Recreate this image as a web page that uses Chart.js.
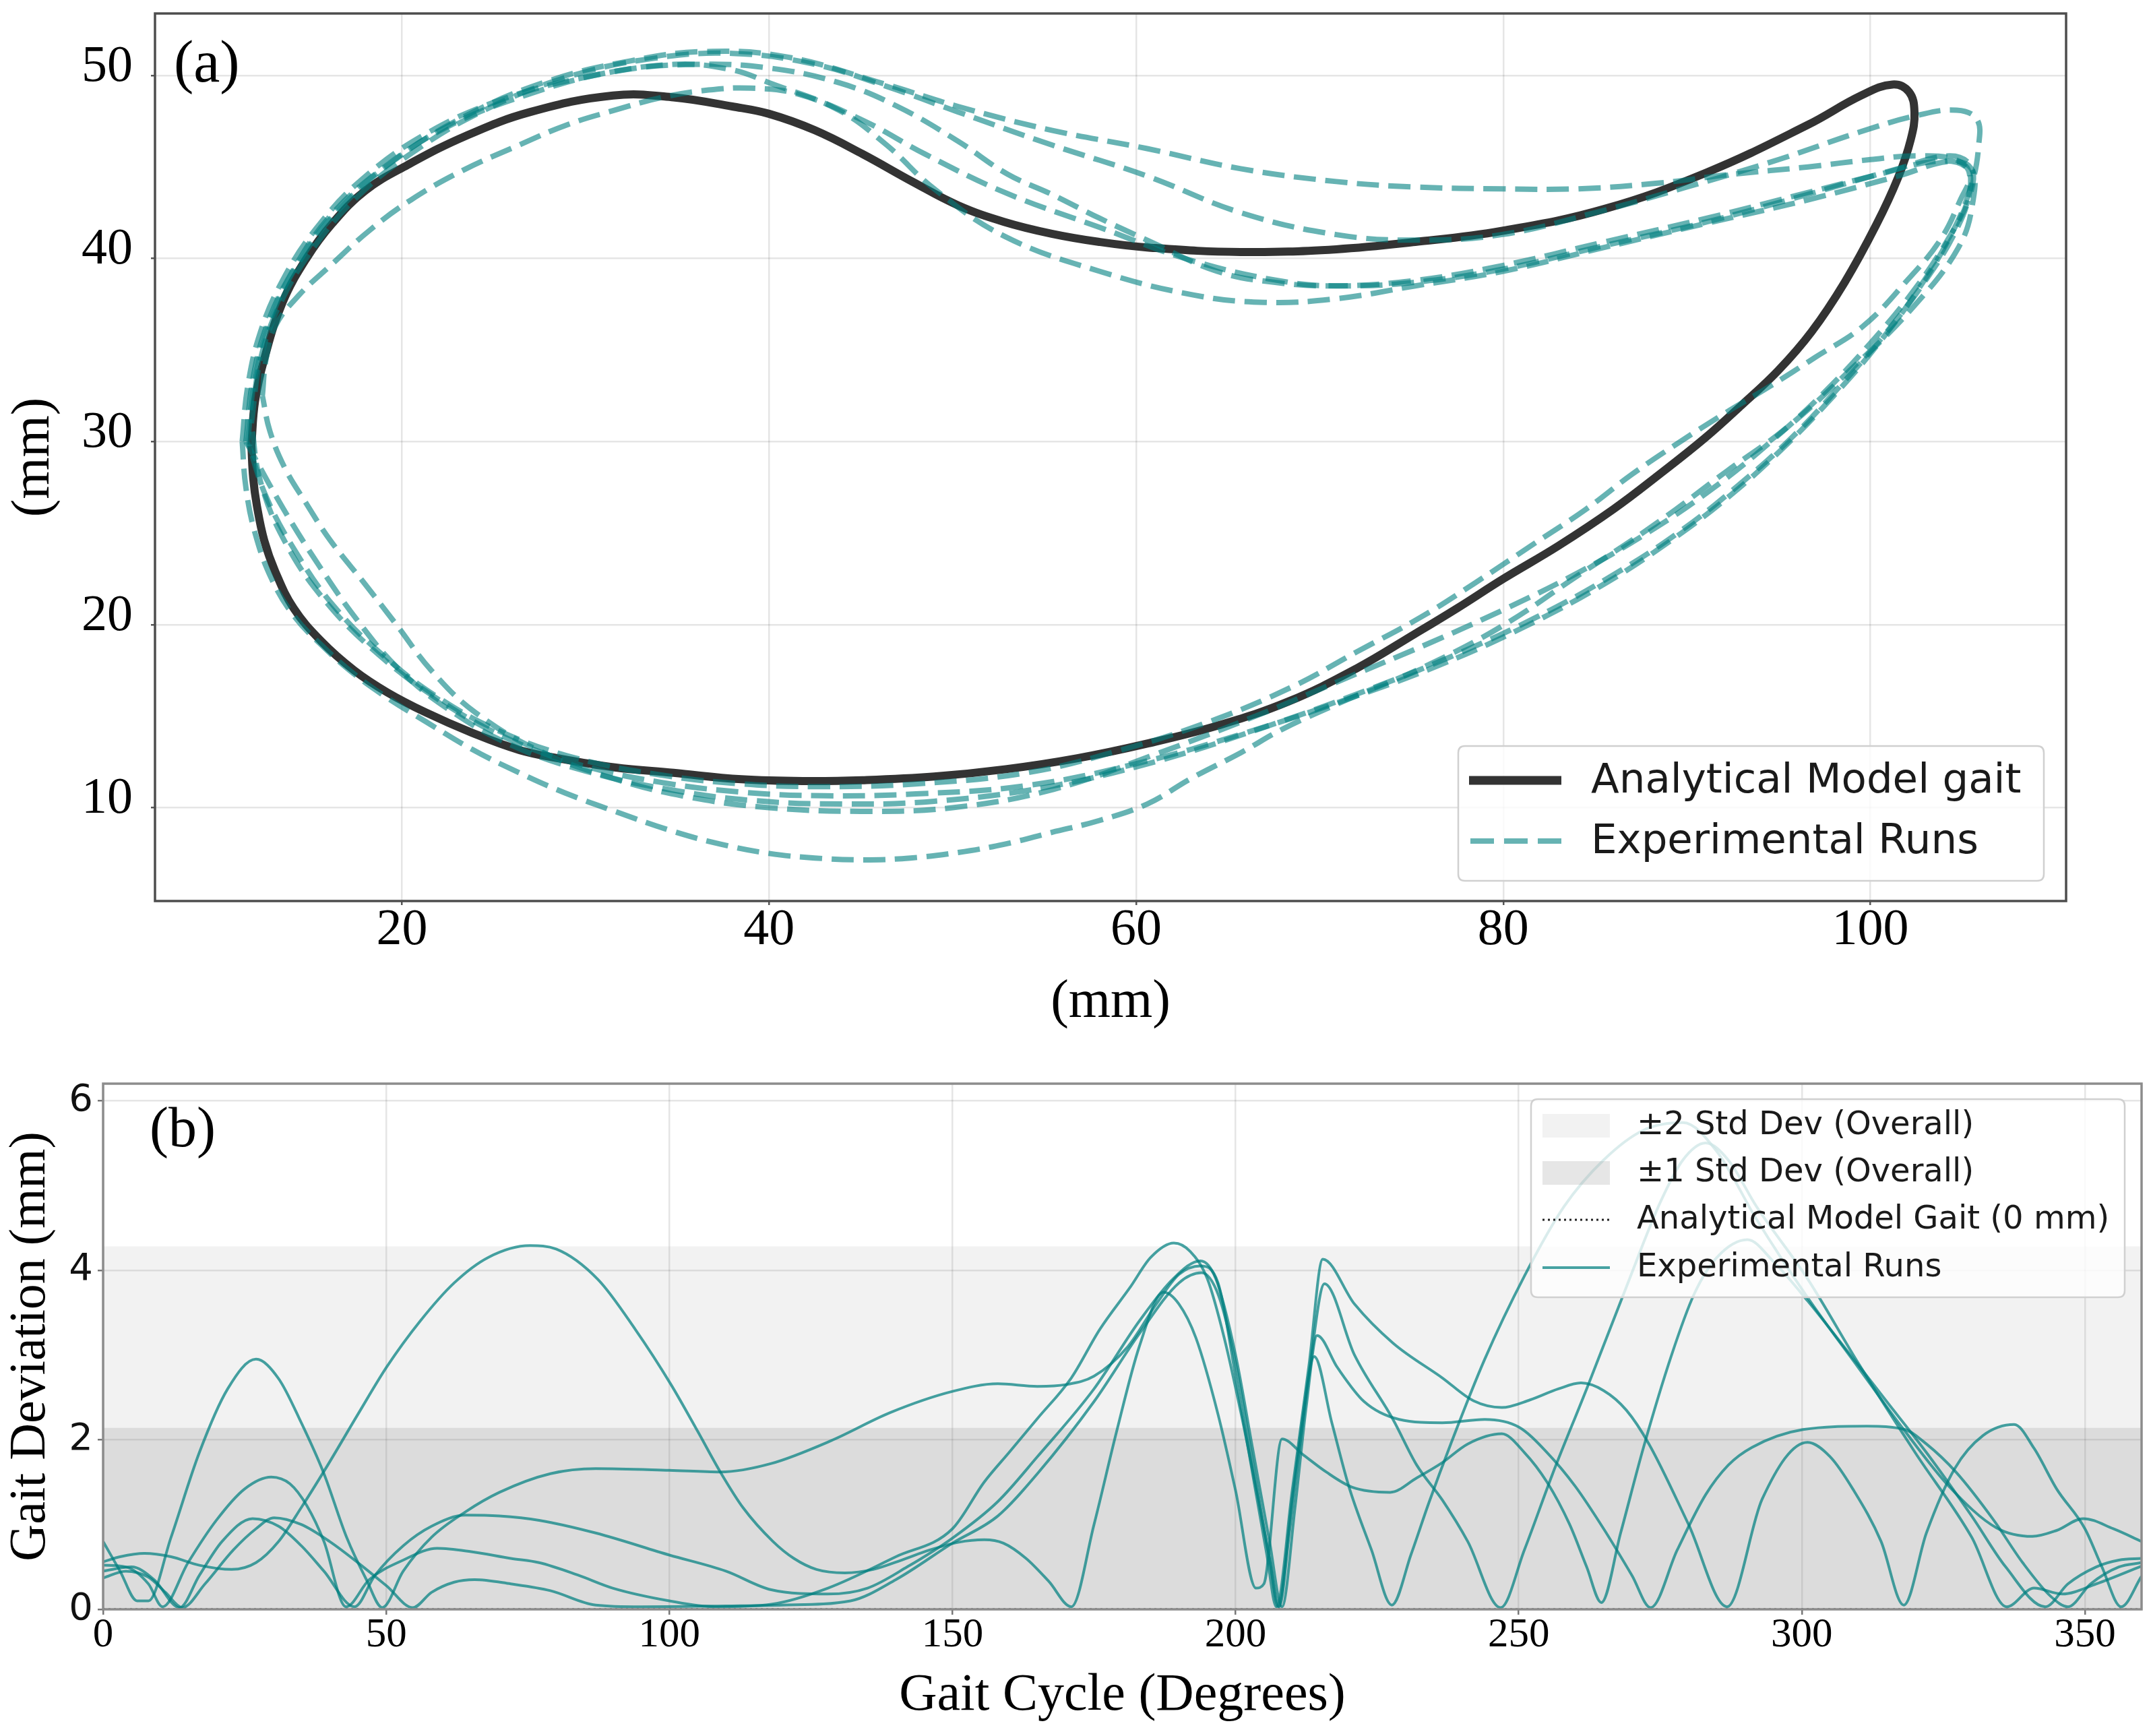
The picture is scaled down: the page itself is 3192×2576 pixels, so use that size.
<!DOCTYPE html>
<html><head><meta charset="utf-8">
<script src="https://cdn.jsdelivr.net/npm/chart.js@4.4.1/dist/chart.umd.min.js"></script>
<style>
html,body{margin:0;padding:0;background:#fff;}
#wrap{position:relative;width:3192px;height:2576px;background:#fff;}
canvas{position:absolute;left:0;}
#c1{top:0;} #c2{top:1560px;}
</style></head><body>
<div id="wrap"><canvas id="c1" width="3192" height="1560"></canvas><canvas id="c2" width="3192" height="1016"></canvas></div>
<script>
// ---------- Panel (a): foot trajectory (mm) ----------
const topXTicks = [20, 40, 60, 80, 100];
const topYTicks = [10, 20, 30, 40, 50];
const modelGait = [[11.8,29.8],[12.0,32.2],[12.5,34.5],[13.5,37.6],[14.8,40.0],[16.2,41.9],[18.0,43.7],[20.3,45.1],[23.5,46.7],[27.0,48.0],[31.5,48.9],[34.8,48.8],[38.0,48.3],[40.0,47.9],[42.5,47.0],[45.1,45.7],[47.8,44.2],[50.3,42.9],[52.8,42.0],[55.4,41.35],[58.0,40.9],[60.6,40.6],[65.7,40.35],[70.9,40.5],[75.2,40.9],[79.9,41.5],[85.5,42.7],[91.1,44.7],[96.6,47.3],[99.5,48.9],[101.2,49.5],[102.1,49.1],[102.4,48.0],[102.2,46.5],[101.5,44.4],[100.3,41.8],[98.6,38.7],[96.8,36.0],[95.0,33.9],[93.0,32.0],[91.0,30.2],[88.5,28.2],[86.0,26.3],[83.0,24.3],[80.0,22.5],[77.5,20.9],[75.2,19.5],[72.0,17.6],[68.3,15.8],[64.5,14.5],[60.6,13.5],[56.8,12.7],[52.9,12.1],[49.0,11.7],[45.1,11.5],[42.0,11.45],[38.5,11.55],[34.8,11.9],[31.6,12.2],[28.5,12.7],[26.4,13.15],[23.8,14.1],[21.3,15.2],[19.2,16.3],[17.4,17.5],[15.6,19.1],[14.1,20.9],[13.1,22.9],[12.5,24.6],[12.1,26.5],[11.9,28.0],[11.8,29.8]];
const run1Path = [[11.6,30],[12.0,33.5],[12.9,36.8],[14.4,39.8],[16.5,42.6],[19.5,45.3],[23.5,47.8],[28,49.7],[32.5,50.8],[36.5,51.3],[41,51.0],[46.4,49.5],[50.3,48.3],[55.4,47.0],[60.6,46.0],[65.7,44.9],[70.9,44.2],[75.2,43.9],[80,43.8],[84,43.8],[88.3,44.1],[92.5,44.6],[96.6,45.0],[100,45.4],[102.5,45.6],[104.6,45.4],[105.4,44.6],[104.9,43.2],[103.8,41.0],[102.0,38.8],[99.6,36.3],[97.0,34.6],[94.5,33.0],[92.0,31.5],[89.5,29.9],[87.0,28.2],[84.5,26.3],[81.5,24.3],[78.5,22.3],[75.5,20.4],[72,18.5],[68.5,16.6],[64,14.7],[59,13.1],[54,11.9],[48,11.3],[43,11.15],[38.5,11.3],[34,11.8],[29.5,12.7],[25.5,14.1],[22,16.0],[19,18.3],[16.3,21],[14.2,24],[12.6,27],[11.6,30]];
const run2Path = [[11.8,31],[12.3,34.5],[13.4,37.6],[15.2,40.6],[17.6,43.4],[20.6,45.8],[24.5,48.1],[29,49.9],[33.5,50.9],[38,51.2],[42.5,50.6],[46.4,49.4],[50.3,48.0],[55.4,46.2],[60.6,44.5],[65.7,42.5],[70.9,41.3],[75.2,41.0],[79.9,41.3],[85,42.5],[90,43.9],[95,45.4],[99.4,46.9],[102.5,47.8],[104.7,48.1],[105.8,47.6],[105.9,46.2],[105.5,44.0],[104.4,41.3],[102.6,38.3],[100.4,35.3],[98,32.5],[95.3,29.7],[92.3,27],[89,24.5],[85.3,22.1],[81.2,19.9],[76.8,17.9],[72,16.1],[66,14.1],[60,12.4],[54,11.2],[48,10.75],[43,10.65],[38.5,10.85],[34,11.4],[29.5,12.4],[25.5,13.9],[22,15.9],[18.8,18.3],[15.9,21.2],[13.7,24.4],[12.3,27.8],[11.8,31]];
const run3Path = [[11.5,30],[11.9,33.5],[12.7,36.5],[14.1,39.4],[16,42.2],[18.8,44.8],[22.5,47.2],[27,49.0],[31.5,50.2],[36,50.6],[40,50.4],[43.8,49.6],[47,48.3],[50.3,46.4],[53,44.6],[55.4,43.5],[58,42.2],[60.6,41.0],[64.4,39.3],[67.5,38.7],[70.9,38.5],[75.2,38.8],[79.9,39.6],[85.5,40.9],[91.1,42.2],[96.6,43.6],[100.5,44.6],[103.5,45.3],[105.2,45.0],[105.4,43.6],[104.6,41.4],[103,38.8],[100.9,36],[98.5,33.2],[95.8,30.3],[92.8,27.6],[89.5,25],[85.8,22.6],[81.8,20.4],[77.5,18.4],[72.8,16.5],[67,14.4],[61,12.5],[55,11.1],[49,10.35],[44,10.2],[39,10.4],[34.5,11.0],[30,12.0],[26,13.4],[22.5,15.4],[19.8,17.6],[17.6,20.2],[15.5,23.2],[13.5,26.4],[11.5,30]];
const run4Path = [[11.3,30],[11.6,33],[12.3,36],[13.5,38.8],[15.3,41.6],[17.8,44.3],[21.3,46.8],[25.5,48.7],[30,49.9],[34.8,50.6],[38,50.3],[40,49.6],[43.8,48.1],[46.4,46.2],[49,43.8],[52.85,41.2],[58,39.3],[63.15,38.0],[67,37.6],[70.9,37.8],[75.2,38.5],[80,39.3],[85.5,40.6],[91,41.9],[96.6,43.2],[101.5,44.5],[104.3,45.3],[105.5,44.9],[105.6,43.2],[104.8,40.6],[102.2,37.2],[99,34],[95.5,30.8],[92.2,28.4],[88.3,25.5],[84.1,22.7],[79.9,19.9],[75.7,17.7],[71.5,15.9],[68,14.3],[65.7,13.0],[63,11.6],[60.6,10.2],[58,9.3],[55.4,8.65],[52.8,8.0],[50.3,7.55],[47.7,7.25],[45.1,7.15],[42.5,7.25],[40,7.5],[37.4,8.0],[34.8,8.7],[31.6,9.8],[28.9,10.8],[26.4,11.9],[23.8,13.2],[21.3,14.7],[19.2,16.0],[17.4,17.3],[15.6,18.9],[14.1,20.5],[12.9,22.5],[12.0,25],[11.5,27.5],[11.3,30]];
const run5Path = [[12.4,32.5],[12.6,34.5],[13.1,36.3],[14.4,38.0],[16.1,39.6],[18.2,41.5],[20.5,43.2],[23.3,44.8],[26.4,46.2],[29,47.3],[31.6,48.1],[34.2,48.8],[36.7,49.2],[39,49.3],[41.5,49.0],[45,47.6],[48.5,45.7],[52.85,43.6],[58,41.7],[63.15,39.85],[68.3,38.7],[71.5,38.5],[75.2,38.7],[79.9,39.4],[85.5,40.7],[91.1,42.0],[96.6,43.5],[101.5,44.9],[104.3,45.6],[105.5,45.0],[105.4,43.4],[104.2,41.0],[102.4,38.3],[100.2,35.6],[97.6,32.8],[94.7,30.1],[91.5,27.5],[88,25.1],[84.2,22.9],[80.2,20.9],[76,19.0],[71.5,17.1],[66.5,15.0],[61,12.9],[55.5,11.0],[50,10.0],[45,9.8],[40,10.0],[35.5,10.6],[31.5,11.6],[27.5,13.1],[24,15.2],[21.6,17.5],[19.7,20],[18.0,22.2],[16.1,24.6],[14.8,26.6],[13.6,28.6],[12.8,30.6],[12.4,32.5]];

// ---------- Panel (b): gait deviation (mm) vs gait cycle (deg) ----------
const cycleTicks = [0, 50, 100, 150, 200, 250, 300, 350];
const deviationTicks = [0, 2, 4, 6];
const std1 = 2.14;
const std2 = 4.28;
const run1Dev = [[0,0.80],[3,0.45],[6,0.10],[8,0.10],[12,0.85],[17,1.85],[22,2.6],[27,2.95],[31,2.72],[35,2.2],[39,1.6],[43,0.85],[46.5,0.35],[49.3,0.02],[53,0.45],[58,0.85],[64,1.15],[70,1.38],[79,1.6],[87,1.66],[100,1.64],[109,1.62],[118,1.72],[128.6,1.99],[139,2.32],[150,2.57],[158,2.66],[165,2.63],[170,2.65],[175,2.75],[181,3.1],[186,3.6],[190,3.95],[193.8,4.05],[196.9,3.85],[200,2.75],[203,1.6],[205.5,0.65],[207.2,0.03],[210,1.4],[213,2.9],[215.4,4.13],[221,3.6],[227.8,3.14],[236.5,2.73],[242,2.46],[247,2.38],[252,2.47],[257,2.6],[261,2.67],[265,2.58],[269,2.35],[273,1.95],[280,1.0],[286.8,0.03],[293,1.3],[301,1.97],[305,1.8],[309,1.42],[314,0.8],[318,0.05],[322,0.9],[327,1.66],[332,2.05],[337.5,2.18],[341,1.9],[345,1.42],[350,0.95],[353,0.5],[356.4,0.03],[360,0.39]];
const run2Dev = [[0,0.56],[3,0.62],[7.3,0.66],[12,0.62],[17,0.52],[22.7,0.47],[27,0.55],[31,0.8],[35,1.2],[39.3,1.66],[45,2.3],[50.1,2.86],[56,3.4],[62,3.85],[68,4.15],[75.4,4.29],[80,4.25],[87.4,3.89],[94,3.3],[100.3,2.65],[105,2.1],[109,1.62],[113,1.2],[118.3,0.8],[122,0.6],[126,0.47],[131,0.43],[136,0.47],[141,0.58],[146,0.7],[151,0.79],[155.6,0.82],[159,0.78],[163,0.6],[167,0.33],[171,0.03],[175,1.0],[179,2.1],[183,3.1],[187.3,3.74],[190,3.6],[193,3.2],[196.9,2.3],[200,1.4],[203.6,0.25],[205,0.3],[208.2,2.01],[212,1.82],[216,1.62],[220.6,1.44],[227.3,1.38],[232,1.55],[236.5,1.73],[241,1.95],[247,2.07],[251,1.85],[255,1.5],[259,1.0],[262,0.5],[264.6,0.08],[268,0.9],[272,1.9],[277,3.0],[281,3.72],[285,4.15],[290.4,4.36],[295,4.1],[301,3.64],[308,3.05],[315,2.45],[322,1.85],[330,1.1],[336,0.5],[343,0.03],[347,0.3],[352,0.5],[356,0.58],[360,0.6]];
const run3Dev = [[0,0.52],[4,0.5],[8,0.3],[10.5,0.03],[15,0.55],[20,1.05],[25,1.42],[29.7,1.56],[33,1.48],[36,1.22],[39,0.8],[42.9,0.03],[47,0.35],[53,0.58],[59,0.72],[65,0.68],[72,0.6],[77,0.55],[84,0.4],[90,0.25],[100,0.1],[108,0.03],[118,0.06],[128,0.25],[140,0.62],[150,0.95],[155.6,1.5],[160,1.85],[165,2.25],[171,2.73],[176,3.3],[181.4,3.8],[185,4.15],[189.1,4.32],[192,4.22],[195,3.9],[198,3.2],[201,2.3],[204,1.3],[206,0.6],[207.5,0.03],[210,1.3],[213,2.8],[215.7,3.84],[221,3.0],[227.8,2.24],[232,1.7],[236.5,1.29],[241,0.8],[246.8,0.02],[251,0.7],[256,1.6],[262,2.6],[269,3.8],[275,4.8],[279,5.3],[283,5.5],[287,5.3],[292,4.75],[301,3.9],[310,2.9],[320,1.85],[330,0.85],[336.2,0.03],[341,0.25],[346,0.18],[352,0.3],[360,0.51]];
const run4Dev = [[0,0.45],[5,0.5],[9,0.35],[13.5,0.02],[17,0.4],[21,0.8],[26.4,1.07],[31,0.98],[35,0.75],[39,0.45],[44.4,0.03],[48,0.4],[53,0.75],[58,0.98],[64,1.11],[70,1.1],[77,1.05],[87,0.9],[100,0.64],[110,0.45],[118,0.23],[128,0.18],[135,0.25],[142,0.5],[150,0.84],[158,1.27],[165,1.8],[175,2.6],[183,3.4],[189,3.9],[193.8,4.11],[196.5,3.9],[200,3.0],[203,1.9],[206,0.8],[208.2,0.03],[210.5,1.2],[212.5,2.4],[214.4,3.23],[218,2.85],[222.7,2.45],[228.9,2.24],[236.5,2.2],[244,2.24],[250,2.15],[255,1.85],[260,1.45],[265,0.95],[270,0.4],[273.3,0.02],[278,0.7],[283,1.35],[287,1.7],[291.2,1.91],[300.2,2.12],[311.5,2.16],[318.2,2.12],[322,1.95],[327.2,1.62],[333.9,1.05],[339,0.55],[344,0.15],[347,0.03],[351,0.3],[356,0.5],[360,0.55]];
const run5Dev = [[0,0.37],[4,0.45],[8,0.38],[11,0.2],[14,0.02],[18,0.3],[23,0.7],[27,0.95],[30.2,1.08],[35,1.0],[40,0.8],[45,0.55],[50,0.28],[54.7,0.02],[58,0.2],[62,0.32],[65.6,0.35],[72,0.3],[79,0.22],[87,0.05],[95,0.03],[110,0.04],[120,0.05],[132,0.1],[140,0.35],[150,0.78],[158,1.1],[165,1.6],[175,2.45],[183,3.25],[190,3.85],[194,3.97],[197,3.7],[200,2.9],[203,1.75],[206,0.6],[207.7,0.03],[209.5,0.9],[211.5,2.0],[213.9,2.98],[217,2.2],[220,1.45],[224,0.7],[227.6,0.05],[231,0.65],[234.1,1.25],[238,1.95],[244,2.95],[251,3.93],[258,4.75],[265,5.3],[272,5.65],[279,5.74],[285,5.4],[292,4.6],[301,3.68],[310,2.85],[318,2.12],[326,1.45],[334.4,0.96],[340.7,0.86],[345,0.93],[349.7,1.07],[355,0.95],[360,0.8]];

// ---------- styling ----------
const SERIF = "'Liberation Serif', 'Times New Roman', serif";
const SANS = "'DejaVu Sans', 'Liberation Sans', sans-serif";
const TEAL_DASH = 'rgba(0,128,128,0.6)';
const TEAL_LINE = 'rgba(0,128,128,0.72)';
const GRID = 'rgba(0,0,0,0.1)';
const toPts = arr => arr.map(p => ({x: p[0], y: p[1]}));
const setTicks = vals => (scale => { scale.ticks = vals.map(v => ({value: v})); });
const fixW = w => (s => { s.width = w; s.paddingTop = 0; s.paddingBottom = 0; });
const fixH = h => (s => { s.height = h; s.paddingLeft = 0; s.paddingRight = 0; });

function roundBox(ctx, x, y, w, h, r) {
  ctx.beginPath();
  ctx.moveTo(x + r, y);
  ctx.lineTo(x + w - r, y); ctx.quadraticCurveTo(x + w, y, x + w, y + r);
  ctx.lineTo(x + w, y + h - r); ctx.quadraticCurveTo(x + w, y + h, x + w - r, y + h);
  ctx.lineTo(x + r, y + h); ctx.quadraticCurveTo(x, y + h, x, y + h - r);
  ctx.lineTo(x, y + r); ctx.quadraticCurveTo(x, y, x + r, y);
  ctx.closePath();
}

const decorTop = {
  id: 'decorTop',
  afterDraw(chart) {
    const {ctx, chartArea: a} = chart;
    ctx.save();
    ctx.strokeStyle = '#4d4d4d'; ctx.lineWidth = 3.5;
    ctx.strokeRect(a.left, a.top, a.right - a.left, a.bottom - a.top);
    ctx.fillStyle = '#000'; ctx.font = '88px ' + SERIF; ctx.textBaseline = 'middle'; ctx.textAlign = 'left';
    ctx.fillText('(a)', 258, 98);
    roundBox(ctx, 2164, 1107, 869, 200, 10);
    ctx.fillStyle = 'rgba(255,255,255,0.8)'; ctx.fill();
    ctx.strokeStyle = '#d0d0d0'; ctx.lineWidth = 2.5; ctx.stroke();
    ctx.lineCap = 'butt';
    ctx.strokeStyle = '#333333'; ctx.lineWidth = 13;
    ctx.beginPath(); ctx.moveTo(2180, 1158); ctx.lineTo(2317, 1158); ctx.stroke();
    ctx.strokeStyle = TEAL_DASH; ctx.lineWidth = 8; ctx.setLineDash([35, 15]);
    ctx.beginPath(); ctx.moveTo(2182, 1248); ctx.lineTo(2317, 1248); ctx.stroke();
    ctx.setLineDash([]);
    ctx.fillStyle = '#1a1a1a'; ctx.font = '61px ' + SANS;
    ctx.fillText('Analytical Model gait', 2361, 1160);
    ctx.fillText('Experimental Runs', 2361, 1250);
    ctx.restore();
  }
};

const decorBottom = {
  id: 'decorBottom',
  afterDraw(chart) {
    const {ctx, chartArea: a} = chart;
    ctx.save();
    ctx.strokeStyle = '#8c8c8c'; ctx.lineWidth = 3.5;
    ctx.strokeRect(a.left, a.top, a.right - a.left, a.bottom - a.top);
    ctx.fillStyle = '#000'; ctx.font = '84px ' + SERIF; ctx.textBaseline = 'middle'; ctx.textAlign = 'left';
    ctx.fillText('(b)', 222, 119);
    const oy = 1560;
    roundBox(ctx, 2272, 1631 - oy, 881, 294, 10);
    ctx.fillStyle = 'rgba(255,255,255,0.8)'; ctx.fill();
    ctx.strokeStyle = '#d0d0d0'; ctx.lineWidth = 2.5; ctx.stroke();
    ctx.fillStyle = 'rgba(128,128,128,0.1)'; ctx.fillRect(2289, 1653 - oy, 100, 35);
    ctx.fillStyle = 'rgba(128,128,128,0.2)'; ctx.fillRect(2289, 1723 - oy, 100, 35);
    ctx.strokeStyle = '#222'; ctx.lineWidth = 3; ctx.setLineDash([3, 5]);
    ctx.beginPath(); ctx.moveTo(2289, 1810 - oy); ctx.lineTo(2389, 1810 - oy); ctx.stroke();
    ctx.setLineDash([]);
    ctx.strokeStyle = TEAL_LINE; ctx.lineWidth = 4;
    ctx.beginPath(); ctx.moveTo(2289, 1881 - oy); ctx.lineTo(2389, 1881 - oy); ctx.stroke();
    ctx.fillStyle = '#1a1a1a'; ctx.font = '48px ' + SANS;
    ctx.fillText('\u00b12 Std Dev (Overall)', 2429, 1671 - oy);
    ctx.fillText('\u00b11 Std Dev (Overall)', 2429, 1741 - oy);
    ctx.fillText('Analytical Model Gait (0 mm)', 2429, 1811 - oy);
    ctx.fillText('Experimental Runs', 2429, 1882 - oy);
    ctx.restore();
  }
};

const runPaths = [run1Path, run2Path, run3Path, run4Path, run5Path];
const topDatasets = runPaths.map((p, i) => ({
  label: 'Experimental Runs', data: toPts(p), showLine: true, tension: 0.4,
  borderColor: TEAL_DASH, borderWidth: 8, borderDash: [33, 14], pointRadius: 0, order: i, fill: false
}));
topDatasets.push({
  label: 'Analytical Model gait', data: toPts(modelGait), showLine: true, tension: 0.4,
  borderColor: '#333333', borderWidth: 12, pointRadius: 0, order: 10, fill: false
});

new Chart(document.getElementById('c1'), {
  type: 'scatter',
  data: {datasets: topDatasets},
  options: {
    responsive: false, animation: false, devicePixelRatio: 1,
    layout: {padding: {left: 0, top: 20, right: 126, bottom: 23}},
    plugins: {legend: {display: false}, tooltip: {enabled: false}},
    scales: {
      x: {
        type: 'linear', min: 6.55, max: 110.66,
        afterBuildTicks: setTicks(topXTicks),
        afterFit: fixH(200),
        border: {display: false},
        grid: {color: GRID, lineWidth: 2.5, tickLength: 6, tickColor: '#555', tickWidth: 2.5},
        ticks: {font: {family: SERIF, size: 76, lineHeight: 1.0}, color: '#000', padding: 0, maxRotation: 0, autoSkip: false},
        title: {display: true, text: '(mm)', font: {family: SERIF, size: 80, lineHeight: 1.2}, color: '#000', padding: {top: 0, bottom: 1}}
      },
      y: {
        type: 'linear', min: 4.9, max: 53.38,
        afterBuildTicks: setTicks(topYTicks),
        afterFit: fixW(230),
        border: {display: false},
        grid: {color: GRID, lineWidth: 2.5, tickLength: 6, tickColor: '#555', tickWidth: 2.5},
        ticks: {font: {family: SERIF, size: 76, lineHeight: 1.0}, color: '#000', padding: 27, labelOffset: -12, autoSkip: false},
        title: {display: true, text: '(mm)', font: {family: SERIF, size: 80, lineHeight: 1.2}, color: '#000', padding: {top: 3, bottom: 0}}
      }
    }
  },
  plugins: [decorTop]
});

const devRuns = [run1Dev, run2Dev, run3Dev, run4Dev, run5Dev];
const bottomDatasets = devRuns.map((r, i) => ({
  label: 'Experimental Runs', data: toPts(r), showLine: true, tension: 0.4, cubicInterpolationMode: 'monotone',
  borderColor: TEAL_LINE, borderWidth: 4, pointRadius: 0, order: i, fill: false
}));
bottomDatasets.push({
  label: 'Analytical Model Gait (0 mm)', data: toPts([[0, 0], [360, 0]]), showLine: true,
  borderColor: '#111', borderWidth: 3, borderDash: [3, 5], pointRadius: 0, order: 20, fill: false
});
bottomDatasets.push({
  label: '\u00b11 Std Dev (Overall)', data: toPts([[0, std1], [360, std1]]), showLine: true,
  borderWidth: 0, borderColor: 'rgba(0,0,0,0)', backgroundColor: 'rgba(128,128,128,0.2)', pointRadius: 0, order: 30, fill: 'origin'
});
bottomDatasets.push({
  label: '\u00b12 Std Dev (Overall)', data: toPts([[0, std2], [360, std2]]), showLine: true,
  borderWidth: 0, borderColor: 'rgba(0,0,0,0)', backgroundColor: 'rgba(128,128,128,0.1)', pointRadius: 0, order: 40, fill: 'origin'
});

new Chart(document.getElementById('c2'), {
  type: 'scatter',
  data: {datasets: bottomDatasets},
  options: {
    responsive: false, animation: false, devicePixelRatio: 1,
    layout: {padding: {left: 0, top: 48, right: 14, bottom: 12}},
    plugins: {legend: {display: false}, tooltip: {enabled: false}},
    scales: {
      x: {
        type: 'linear', min: 0, max: 360,
        afterBuildTicks: setTicks(cycleTicks),
        afterFit: fixH(176),
        border: {display: false},
        grid: {color: GRID, lineWidth: 2.5, tickLength: 8, tickColor: '#777', tickWidth: 2.5},
        ticks: {font: {family: SERIF, size: 61, lineHeight: 1.0}, color: '#000', padding: 0, maxRotation: 0, autoSkip: false},
        title: {display: true, text: 'Gait Cycle (Degrees)', font: {family: SERIF, size: 78, lineHeight: 1.2}, color: '#000', padding: {top: 0, bottom: 1}}
      },
      y: {
        type: 'linear', min: 0, max: 6.2,
        afterBuildTicks: setTicks(deviationTicks),
        afterFit: fixW(153),
        border: {display: false},
        grid: {color: GRID, lineWidth: 2.5, tickLength: 8, tickColor: '#777', tickWidth: 2.5},
        ticks: {font: {family: SANS, size: 56, lineHeight: 1.0}, color: '#111', padding: 7, autoSkip: false},
        title: {display: true, text: 'Gait Deviation (mm)', font: {family: SERIF, size: 76, lineHeight: 1.2}, color: '#000', padding: {top: 0, bottom: 0}}
      }
    }
  },
  plugins: [decorBottom]
});
</script></body></html>
